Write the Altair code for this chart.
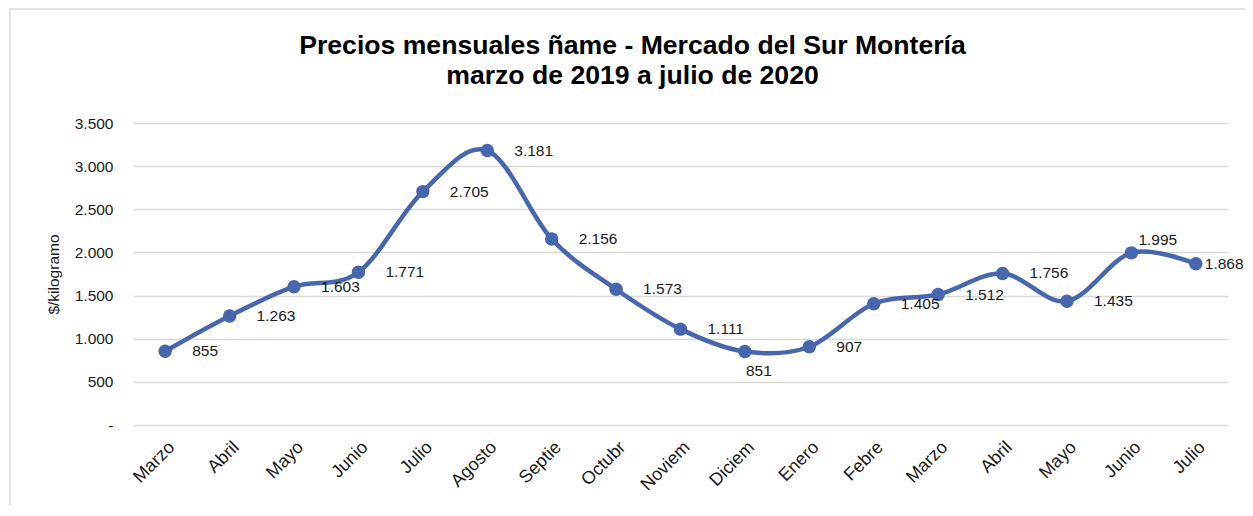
import altair as alt
import pandas as pd

# ---- data ----
months = ["Marzo", "Abril", "Mayo", "Junio", "Julio", "Agosto", "Septie", "Octubr",
          "Noviem", "Diciem", "Enero", "Febre", "Marzo", "Abril", "Mayo", "Junio", "Julio"]
prices = [855, 1263, 1603, 1771, 2705, 3181, 2156, 1573,
          1111, 851, 907, 1405, 1512, 1756, 1435, 1995, 1868]
y_ticks = [0, 500, 1000, 1500, 2000, 2500, 3000, 3500]
title_lines = ["Precios mensuales ñame - Mercado del Sur Montería",
               "marzo de 2019 a julio de 2020"]
y_title = "$/kilogramo"

df = pd.DataFrame({"idx": list(range(len(months))), "mes": months, "precio": prices})

FONT = "Liberation Sans"
BLUE = "#4666ad"
GRID = "#d9d9d9"
TXT = "#1a1a1a"
FS = 15.5

W, H = 1095, 302
label_expr = "[" + ",".join("'" + m + "'" for m in months) + "][datum.value]"

x_enc = alt.X(
    "idx:O",
    scale=alt.Scale(padding=0.5),
    axis=alt.Axis(title=None, labelExpr=label_expr, labelAngle=-45, labelFont=FONT,
                  labelFontSize=18, labelColor=TXT, labelPadding=13, ticks=False,
                  domain=False, grid=False),
)
y_enc = alt.Y(
    "precio:Q",
    scale=alt.Scale(domain=[0, 3500], nice=False),
    axis=alt.Axis(values=y_ticks,
                  labelExpr="datum.value == 0 ? '-' : replace(format(datum.value, ','), ',', '.')",
                  title=y_title, titleFont=FONT, titleFontWeight="normal", titleFontSize=FS,
                  titleColor=TXT, titlePadding=13, labelFont=FONT, labelFontSize=FS,
                  labelColor=TXT, labelPadding=20, grid=True, gridColor=GRID, gridWidth=1.5,
                  ticks=False, domain=False),
)

base = alt.Chart(df).encode(x=x_enc, y=y_enc)

line = base.mark_line(interpolate="cardinal", strokeWidth=4.5, color=BLUE)
pts = base.mark_circle(size=180, opacity=1, color=BLUE)

lab = base.transform_calculate(lbl="replace(format(datum.precio, ','), ',', '.')")
txt_style = dict(font=FONT, fontSize=FS, color=TXT)
lab_right = lab.transform_filter("datum.idx != 9 && datum.idx < 15").mark_text(
    align="left", baseline="middle", dx=27, **txt_style).encode(text="lbl:N")
lab_below = lab.transform_filter("datum.idx == 9").mark_text(
    align="center", baseline="middle", dx=14, dy=19, **txt_style).encode(text="lbl:N")
lab_above = lab.transform_filter("datum.idx == 15").mark_text(
    align="left", baseline="middle", dx=7, dy=-13, **txt_style).encode(text="lbl:N")
lab_last = lab.transform_filter("datum.idx == 16").mark_text(
    align="left", baseline="middle", dx=9, **txt_style).encode(text="lbl:N")

border = alt.Chart(pd.DataFrame({"a": [0]})).mark_rect(
    fill=None, stroke="#d9d9d9", strokeWidth=1.5).encode(
    x=alt.value(-123), x2=alt.value(W + 200), y=alt.value(-114), y2=alt.value(H + 200))

chart = alt.layer(border, line, pts, lab_right, lab_below, lab_above, lab_last).properties(
    width=W, height=H,
    autosize=alt.AutoSizeParams(type="none"),
    padding={"left": 125, "top": 115, "right": 17, "bottom": 80},
    background="white",
    title=alt.TitleParams(text=title_lines, font=FONT, fontSize=26.6, fontWeight="bold",
                          color="#000", anchor="middle", frame="group", dx=-48,
                          offset=-108, lineHeight=30, baseline="bottom"),
).configure_view(stroke=None)

chart.save("out.html", embed_options={"renderer": "svg", "actions": False})
